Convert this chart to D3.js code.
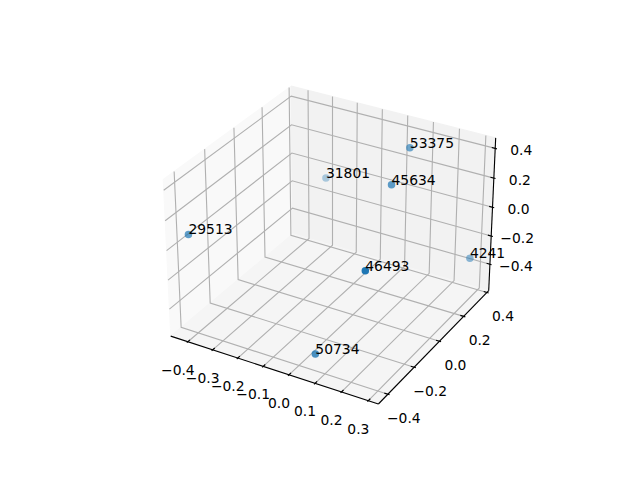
<!DOCTYPE html>
<html>
<head>
<meta charset="utf-8">
<script src="https://cdnjs.cloudflare.com/ajax/libs/d3/7.8.5/d3.min.js"></script>
<style>html,body{margin:0;padding:0;background:#fff}svg{display:block}text{font-family:"DejaVu Sans";font-size:13.89px;fill:#000}</style>
</head>
<body>
<script>
const labels = ["29513","50734","46493","4241","31801","53375","45634"];
const xs = [-0.447, 0.08, 0.264, 0.2855, -0.314, 0.0765, 0.1065];
const ys = [-0.363, -0.43, -0.43, 0.353, 0.39, 0.277, 0.075];
const zs = [0.035, -0.437, 0.216, -0.333, -0.087, 0.385, 0.30];
const xTicks = [-0.4,-0.3,-0.2,-0.1,0.0,0.1,0.2,0.3];
const yTicks = [-0.4,-0.2,0.0,0.2,0.4];
const zTicks = [-0.4,-0.2,0.0,0.2,0.4];
const xLim = [-0.47,0.337], yLim = [-0.47,0.415], zLim = [-0.59,0.47];
const elev = 30*Math.PI/180, azim = -60*Math.PI/180, dist = 10;
const aspectRaw = [4,4,3];

const W = 640, H = 480;
const svg = d3.select("body").append("svg").attr("width",W).attr("height",H);

const n = Math.hypot(...aspectRaw);
const aspect = aspectRaw.map(a=>a*1.8294640721620434*25/24/n);
const nx = d3.scaleLinear().domain(xLim).range([0,aspect[0]]);
const ny = d3.scaleLinear().domain(yLim).range([0,aspect[1]]);
const nz = d3.scaleLinear().domain(zLim).range([0,aspect[2]]);
const R = aspect.map(a=>a/2);
const w = [Math.cos(elev)*Math.cos(azim),Math.cos(elev)*Math.sin(azim),Math.sin(elev)];
const eye = R.map((r,i)=>r+dist*w[i]);
const cross=(a,b)=>[a[1]*b[2]-a[2]*b[1],a[2]*b[0]-a[0]*b[2],a[0]*b[1]-a[1]*b[0]];
const dot=(a,b)=>a[0]*b[0]+a[1]*b[1]+a[2]*b[2];
let u = cross([0,0,1],w); const un=Math.hypot(...u); u=u.map(c=>c/un);
const v = cross(w,u);
function view(x,y,z){
  const p=[nx(x)-eye[0],ny(y)-eye[1],nz(z)-eye[2]];
  const zv=dot(w,p);
  return [dot(u,p)/(-zv),dot(v,p)/(-zv),zv];
}
const sx = d3.scaleLinear()
  .domain([view(xLim[0],yLim[0],zLim[0])[0],view(xLim[1],yLim[1],zLim[0])[0]]).range([170.7,488.7]);
const sy = d3.scaleLinear()
  .domain([view(xLim[1],yLim[0],zLim[0])[1],view(xLim[0],yLim[1],zLim[1])[1]]).range([404,86]);
const P=(x,y,z)=>{const p=view(x,y,z);return [sx(p[0]),sy(p[1])];};
const line=d3.line();

const [x0,x1]=xLim,[y0,y1]=yLim,[z0,z1]=zLim;
// panes
const panes=[
 {c:"#f9f9f9",pts:[[x0,y0,z0],[x0,y1,z0],[x0,y1,z1],[x0,y0,z1]]},
 {c:"#f2f2f2",pts:[[x0,y1,z0],[x1,y1,z0],[x1,y1,z1],[x0,y1,z1]]},
 {c:"#f5f5f5",pts:[[x0,y0,z0],[x1,y0,z0],[x1,y1,z0],[x0,y1,z0]]}
];
svg.append("g").selectAll("path").data(panes).join("path")
  .attr("d",d=>line(d.pts.map(p=>P(...p)))+"Z").attr("fill",d=>d.c).attr("stroke",d=>d.c).attr("stroke-width",1);
// grid
const grid=[
 ...xTicks.map(t=>[[t,y0,z0],[t,y1,z0],[t,y1,z1]]),
 ...yTicks.map(t=>[[x1,t,z0],[x0,t,z0],[x0,t,z1]]),
 ...zTicks.map(t=>[[x0,y0,t],[x0,y1,t],[x1,y1,t]])
];
svg.append("g").selectAll("path").data(grid).join("path")
  .attr("d",d=>line(d.map(p=>P(...p)))).attr("fill","none").attr("stroke","#b0b0b0").attr("stroke-width",1.11);
// axes lines
const axes=[
 [[x0,y0,z0],[x1,y0,z0]],
 [[x1,y0,z0],[x1,y1,z0]],
 [[x1,y1,z0],[x1,y1,z1]]
];
svg.append("g").selectAll("path").data(axes).join("path")
  .attr("d",d=>line(d.map(p=>P(...p)))).attr("fill","none").attr("stroke","#000").attr("stroke-width",1.11);
// ticks
const dx=(x1-x0)/12.5, dy=(y1-y0)/12.5;
const fin=0.2, fout=0.1;
const fmt=t=>d3.format(".1f")(t).replace("-","\u2212");
const tickSegs=[
 ...xTicks.map(t=>[[t,y0-dy*fout,z0],[t,y0+dy*fin,z0]]),
 ...yTicks.map(t=>[[x1+dx*fout,t,z0],[x1-dx*fin,t,z0]]),
 ...zTicks.map(t=>[[x1-dx*fin,y1,t],[x1+dx*fout,y1,t]])
];
svg.append("g").selectAll("path").data(tickSegs).join("path")
  .attr("d",d=>line(d.map(p=>P(...p)))).attr("fill","none").attr("stroke","#000").attr("stroke-width",1.11);
// tick labels
const tl=[
 ...xTicks.map(t=>({t,p:P(t,y0,z0),ox:-10,oy:28})),
 ...yTicks.map(t=>({t,p:P(x1,t,z0),ox:16,oy:24})),
 ...zTicks.map(t=>({t,p:P(x1,y1,t),ox:26,oy:2}))
];
svg.append("g").selectAll("text").data(tl).join("text")
  .attr("x",d=>d.p[0]+d.ox).attr("y",d=>d.p[1]+d.oy)
  .attr("text-anchor","middle").attr("dominant-baseline","central").text(d=>fmt(d.t));
// points
const pts=labels.map((l,i)=>({l,x:xs[i],y:ys[i],z:zs[i],d:view(xs[i],ys[i],zs[i])[2]})).sort((a,b)=>a.d-b.d);
const alpha=d3.scaleLinear().domain(d3.extent(pts,d=>d.d)).range([0.35,1]);
svg.append("g").selectAll("circle").data(pts).join("circle")
  .attr("cx",d=>P(d.x,d.y,d.z)[0]).attr("cy",d=>P(d.x,d.y,d.z)[1]).attr("r",3.75)
  .attr("fill","#1f77b4").attr("fill-opacity",d=>alpha(d.d));
// annotations
svg.append("g").selectAll("text").data(pts).join("text")
  .attr("x",d=>P(d.x,d.y,d.z)[0]).attr("y",d=>P(d.x,d.y,d.z)[1]).text(d=>d.l);
</script>
</body>
</html>
